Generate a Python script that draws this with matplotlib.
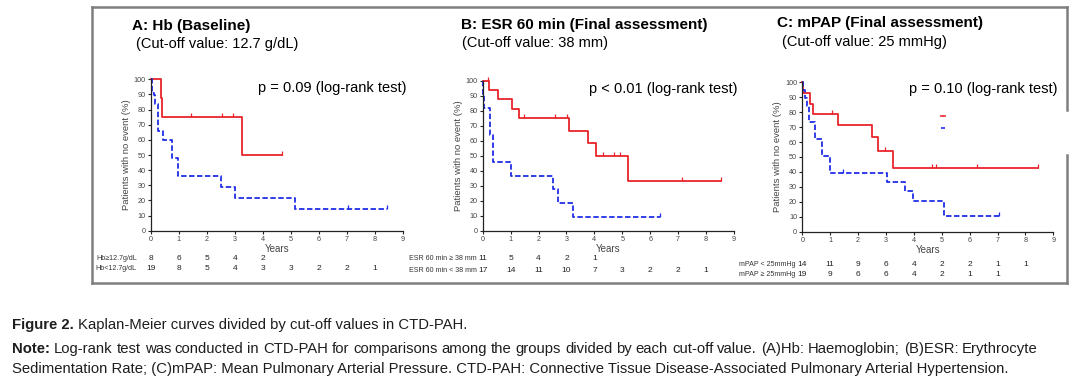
import numpy as np
import matplotlib
matplotlib.use('Agg')
import matplotlib.pyplot as plt
import matplotlib.transforms as mtransforms
from matplotlib.lines import Line2D
from matplotlib import font_manager

W, H = 1076, 382

# ---- A: Hb (baseline) ----
hb_red_t = [0, 0.38, 0.40, 3.25, 4.70]
hb_red_s = [100, 87.5, 75, 50, 50]
hb_red_cens = [1.45, 2.55, 2.95, 4.70]
hb_blue_t = [0, 0.03, 0.10, 0.15, 0.25, 0.45, 0.75, 0.98, 2.50, 3.00, 5.15, 8.45]
hb_blue_s = [100, 91, 89.5, 84, 66, 60, 48, 36, 29, 21.5, 14.5, 14.5]
hb_blue_cens = [7.05, 8.45]
hb_risk_labels = ['Hb\u226512.7g/dL', 'Hb<12.7g/dL']
hb_risk = [[8, 6, 5, 4, 2], [19, 8, 5, 4, 3, 3, 2, 2, 1]]

# ---- B: ESR 60 min ----
esr_red_t = [0, 0.24, 0.54, 1.04, 1.31, 3.10, 3.76, 4.05, 5.19, 8.53]
esr_red_s = [100, 93.8, 87.5, 81.3, 75, 66.7, 58.3, 50, 33.3, 33.3]
esr_red_cens = [0.20, 1.49, 2.59, 3.01, 4.32, 4.71, 4.92, 7.15, 8.53]
esr_blue_t = [0, 0.02, 0.05, 0.26, 0.38, 1.01, 2.53, 2.71, 3.25, 6.35]
esr_blue_s = [100, 91, 82, 63.8, 45.6, 36.4, 27.8, 18.7, 9.3, 9.3]
esr_blue_cens = [6.35]
esr_risk_labels = ['ESR 60 min \u2265 38 mm', 'ESR 60 min < 38 mm']
esr_risk = [[11, 5, 4, 2, 1], [17, 14, 11, 10, 7, 3, 2, 2, 1]]

# ---- C: mPAP ----
pap_red_t = [0, 0.01, 0.27, 0.39, 1.29, 2.49, 2.70, 3.24, 8.44]
pap_red_s = [100, 92.9, 85.7, 78.6, 71.4, 63.5, 54, 42.9, 42.9]
pap_red_cens = [1.08, 2.96, 4.66, 4.81, 6.27, 8.44]
pap_blue_t = [0, 0.03, 0.10, 0.18, 0.25, 0.45, 0.72, 0.99, 3.05, 3.68, 3.98, 5.08, 7.06]
pap_blue_s = [100, 94.7, 89.5, 84.2, 73.7, 62.3, 50.7, 39, 33.5, 27.2, 20.5, 10.3, 10.3]
pap_blue_cens = [1.45, 7.06]
pap_risk_labels = ['mPAP < 25mmHg', 'mPAP \u2265 25mmHg']
pap_risk = [[14, 11, 9, 6, 4, 2, 2, 1, 1], [19, 9, 6, 6, 4, 2, 1, 1]]

RED = '#e8242b'
BLUE = '#1f2ee6'

names = {f.name for f in font_manager.fontManager.ttflist}
CAP_FONT = 'Liberation Sans Narrow' if 'Liberation Sans Narrow' in names else 'Liberation Sans'

plt.rcParams['font.family'] = ['Liberation Sans', 'DejaVu Sans']


def px(x, y):
    return x / W, 1 - y / H


def step_value(t, times, surv):
    idx = np.searchsorted(times, t, side='right') - 1
    return np.asarray(surv, dtype=float)[idx]


def add_km(ax, times, surv, cens, color, dashed):
    ls = (0, (3.0, 1.4)) if dashed else '-'
    ax.step(times, surv, where='post', color=color, lw=1.3, ls=ls, clip_on=False)
    ax.plot(cens, step_value(cens, times, surv) + 1.3, ls='none', marker='|',
            ms=3.2, mew=0.9, color=color, clip_on=False)


def draw_panel(box, texts, curves, risk_labels, risk_rows, risk_y, label_gap):
    x0, x9, ytop, ybot = box
    l, b = px(x0, ybot)
    r, t = px(x9, ytop)
    ax = fig.add_axes([l, b, r - l, t - b])
    for c in curves:
        add_km(ax, *c)
    ax.set_xlim(0, 9)
    ax.set_ylim(0, 100)
    ax.set_xticks(range(10))
    ax.set_yticks(range(0, 101, 10))
    for s in ['top', 'right']:
        ax.spines[s].set_visible(False)
    for s in ['left', 'bottom']:
        ax.spines[s].set_linewidth(0.9)
        ax.spines[s].set_color('#222222')
    ax.tick_params(length=2.5, width=0.8, pad=1.2, labelsize=5.2,
                   labelcolor='#444444', color='#222222')
    ax.set_ylabel('Patients with no event (%)', fontsize=6.8, color='#444444', labelpad=2)
    ax.set_xlabel('Years', fontsize=7, color='#444444', labelpad=0.5)

    (tt, txy), (st, sxy), (pt, pxy) = texts
    fig.text(*px(*txy), tt, fontsize=11, fontweight='bold', va='center', ha='left')
    fig.text(*px(*sxy), st, fontsize=10.5, va='center', ha='left')
    fig.text(*px(*pxy), pt, fontsize=10.5, va='center', ha='left')

    tr = mtransforms.blended_transform_factory(ax.transData, fig.transFigure)
    for lab, row, yy in zip(risk_labels, risk_rows, risk_y):
        yf = 1 - yy / H
        ax.text(-label_gap, yf, lab, transform=tr, fontsize=5.1, color='#333333',
                ha='right', va='center', clip_on=False)
        for i, n in enumerate(row):
            ax.text(i, yf, str(n), transform=tr, fontsize=6, color='#222222',
                    ha='center', va='center', clip_on=False)
    return ax


fig = plt.figure(figsize=(W / 100, H / 100), dpi=100)

# outer frame, with gap on the right where a hidden legend sat
frame_kw = dict(color='#7f7f7f', lw=1.8, transform=fig.transFigure, solid_capstyle='projecting')
for seg in [((92, 7), (1067, 7)), ((92, 7), (92, 283)), ((92, 283), (1067, 283)),
            ((1067, 7), (1067, 110)), ((1067, 155), (1067, 283))]:
    (xa, ya), (xb, yb) = seg
    fig.add_artist(Line2D([xa / W, xb / W], [1 - ya / H, 1 - yb / H], **frame_kw))

draw_panel((150.7, 402.7, 79.3, 230.7),
           [('A: Hb (Baseline)', (132, 26)), ('(Cut-off value: 12.7 g/dL)', (136, 44)),
            ('p = 0.09 (log-rank test)', (258, 88))],
           [(hb_red_t, hb_red_s, hb_red_cens, RED, False),
            (hb_blue_t, hb_blue_s, hb_blue_cens, BLUE, True)],
           hb_risk_labels, hb_risk, [258, 269], 0.5)

draw_panel((482.7, 734.0, 80.7, 230.7),
           [('B: ESR 60 min (Final assessment)', (461, 25)), ('(Cut-off value: 38 mm)', (462, 43)),
            ('p < 0.01 (log-rank test)', (589, 89))],
           [(esr_red_t, esr_red_s, esr_red_cens, RED, False),
            (esr_blue_t, esr_blue_s, esr_blue_cens, BLUE, True)],
           esr_risk_labels, esr_risk, [258, 271], 0.2)

draw_panel((802.3, 1053.3, 82.3, 231.7),
           [('C: mPAP (Final assessment)', (777, 23)), ('(Cut-off value: 25 mmHg)', (782, 42)),
            ('p = 0.10 (log-rank test)', (909, 89))],
           [(pap_red_t, pap_red_s, pap_red_cens, RED, False),
            (pap_blue_t, pap_blue_s, pap_blue_cens, BLUE, True)],
           pap_risk_labels, pap_risk, [264, 274], 0.25)

# remnants of the panel C legend
fig.legend(handles=[Line2D([], [], color=RED, lw=1.2), Line2D([], [], color=BLUE, lw=1.2, ls='--')],
           labels=['', ''], loc='center', bbox_to_anchor=px(943, 123), frameon=False,
           handlelength=0.3, handletextpad=0, borderpad=0, labelspacing=0.25, fontsize=8)

# ---- caption ----
cap_kw = dict(family=CAP_FONT, fontsize=10.7, color='#1e1e1e', va='center', ha='left')
renderer = fig.canvas.get_renderer()


def bold_lead(x, y, lead, rest):
    t = fig.text(*px(x, y), lead, fontweight='bold', **cap_kw)
    bb = t.get_window_extent(renderer)
    fig.text(bb.x1 / W + 4 / W, 1 - y / H, rest, **cap_kw)


bold_lead(12, 325, 'Figure 2.', 'Kaplan-Meier curves divided by cut-off values in CTD-PAH.')

# justified second line
line2 = ('Log-rank test was conducted in CTD-PAH for comparisons among the groups divided by '
         'each cut-off value. (A)Hb: Haemoglobin; (B)ESR: Erythrocyte').split()
words = [fig.text(0, 1 - 349 / H, 'Note:', fontweight='bold', **cap_kw)]
words += [fig.text(0, 1 - 349 / H, w, **cap_kw) for w in line2]
widths = [w.get_window_extent(renderer).width for w in words]
gap = (1038 - 12 - sum(widths)) / (len(words) - 1)
xcur = 12
for w, wd in zip(words, widths):
    w.set_x(xcur / W)
    xcur += wd + gap

fig.text(*px(12, 369), 'Sedimentation Rate; (C)mPAP: Mean Pulmonary Arterial Pressure. CTD-PAH: '
         'Connective Tissue Disease-Associated Pulmonary Arterial Hypertension.', **cap_kw)

fig.savefig('out.png', dpi=100)
